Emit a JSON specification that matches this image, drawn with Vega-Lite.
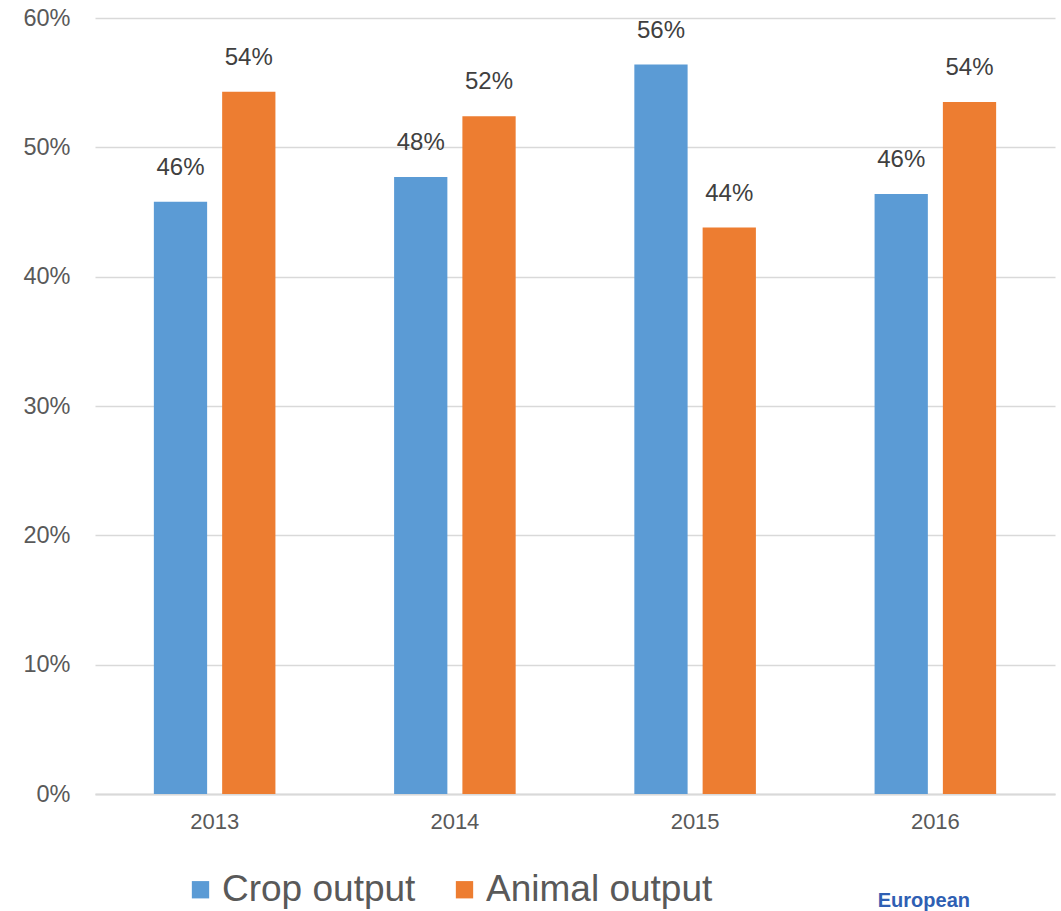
{
  "$schema": "https://vega.github.io/schema/vega-lite/v6.json",
  "width": 960,
  "height": 776,
  "padding": {"left": 22, "top": 6, "right": 5, "bottom": 5},
  "background": "white",
  "config": {
    "font": "Liberation Sans",
    "view": {"stroke": null}
  },
  "title": {
    "text": "European",
    "orient": "bottom",
    "anchor": "end",
    "fontSize": 20,
    "fontWeight": "bold",
    "color": "#2f5fb3",
    "offset": -17,
    "dx": -85
  },
  "data": {
    "values": [
      {"year": "2013", "series": "Crop output", "value": 0.458},
      {"year": "2013", "series": "Animal output", "value": 0.543},
      {"year": "2014", "series": "Crop output", "value": 0.477},
      {"year": "2014", "series": "Animal output", "value": 0.524},
      {"year": "2015", "series": "Crop output", "value": 0.564},
      {"year": "2015", "series": "Animal output", "value": 0.438},
      {"year": "2016", "series": "Crop output", "value": 0.464},
      {"year": "2016", "series": "Animal output", "value": 0.535}
    ]
  },
  "encoding": {
    "x": {
      "field": "year",
      "type": "nominal",
      "scale": {"paddingInner": 0.494, "paddingOuter": 0.245},
      "axis": {
        "title": null,
        "labelAngle": 0,
        "labelFontSize": 22,
        "labelColor": "#595959",
        "labelPadding": 17,
        "ticks": false,
        "domainColor": "#d9d9d9",
        "domainWidth": 2
      }
    },
    "xOffset": {
      "field": "series",
      "type": "nominal",
      "sort": ["Crop output", "Animal output"],
      "scale": {"paddingInner": 0.22}
    },
    "y": {
      "field": "value",
      "type": "quantitative",
      "scale": {"domain": [0, 0.6]},
      "axis": {
        "title": null,
        "format": ".0%",
        "values": [0, 0.1, 0.2, 0.3, 0.4, 0.5, 0.6],
        "labelOverlap": false,
        "labelFontSize": 23.5,
        "labelColor": "#595959",
        "labelPadding": 25,
        "ticks": false,
        "domain": false,
        "gridColor": "#d9d9d9",
        "gridWidth": 1.5
      }
    }
  },
  "layer": [
    {
      "mark": {"type": "bar"},
      "encoding": {
        "color": {
          "field": "series",
          "type": "nominal",
          "sort": ["Crop output", "Animal output"],
          "scale": {"domain": ["Crop output", "Animal output"], "range": ["#5b9bd5", "#ed7d31"]},
          "legend": {
            "title": null,
            "orient": "none",
            "direction": "horizontal",
            "legendX": 87,
            "legendY": 853,
            "symbolType": "square",
            "symbolSize": 300,
            "symbolStrokeWidth": 0,
            "labelFontSize": 37,
            "labelColor": "#595959",
            "labelOffset": 3,
            "columnPadding": 30,
            "labelLimit": 400
          }
        }
      }
    },
    {
      "mark": {"type": "text", "baseline": "bottom", "dy": -22, "fontSize": 24, "color": "#404040"},
      "encoding": {
        "text": {"field": "value", "type": "quantitative", "format": ".0%"}
      }
    }
  ]
}
